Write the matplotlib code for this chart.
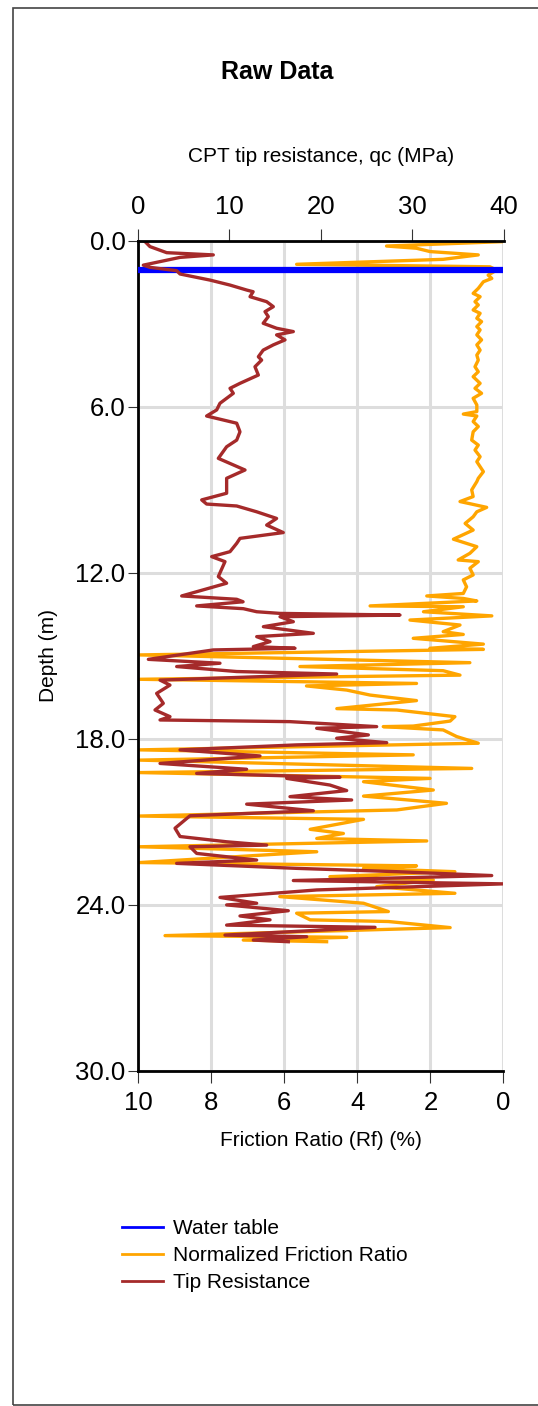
import numpy as np
import matplotlib.pyplot as plt
from matplotlib.lines import Line2D
from matplotlib.patches import Rectangle

plt.rcParams['font.family'] = ['Liberation Sans', 'DejaVu Sans']

# Water table depth (m)
water_table = 1.05

# Tip resistance qc (MPa) against depth (m)
tip_depth = [0.04, 0.22, 0.44, 0.52, 0.61, 0.89, 0.97, 1.09, 1.21, 1.43, 1.61, 1.79, 1.85,
             2.03, 2.21, 2.39, 2.57, 2.75, 2.99, 3.17, 3.29, 3.41, 3.59, 3.77, 3.96, 4.20,
             4.32, 4.56, 4.86, 5.16, 5.34, 5.52, 5.88, 6.12, 6.34, 6.60, 6.91, 7.21, 7.45,
             7.87, 8.29, 8.59, 9.13, 9.37, 9.52, 9.59, 9.80, 10.04, 10.28, 10.55, 10.76,
             10.94, 11.24, 11.42, 11.60, 12.14, 12.38, 12.84, 12.96, 13.05, 13.20, 13.30,
             13.41, 13.47, 13.53, 13.59, 13.77, 13.95, 14.19, 14.31, 14.49, 14.67, 14.73,
             14.79, 15.13, 15.27, 15.39, 15.57, 15.66, 15.88, 16.06, 16.36, 16.72, 16.96,
             17.20, 17.32, 17.38, 17.56, 17.62, 17.86, 17.98, 18.14, 18.22, 18.40, 18.62,
             18.89, 19.10, 19.25, 19.39, 19.43, 19.67, 19.87, 20.09, 20.21, 20.36, 20.60,
             20.78, 21.23, 21.53, 21.72, 21.84, 21.90, 22.14, 22.38, 22.50, 22.68, 22.80,
             22.94, 23.12, 23.24, 23.46, 23.73, 23.94, 24.00, 24.21, 24.40, 24.54, 24.73,
             24.81, 25.09, 25.15, 25.27, 25.33]
tip_qc = [0.77, 1.31, 3.14, 8.24, 4.6, 0.58, 1.31, 4.23, 4.6, 7.88, 10.07, 11.9, 12.6,
          12.26, 14.08, 14.81, 13.9, 14.26, 13.7, 15.17, 17.0, 15.17, 16.09, 14.81, 13.7, 13.17,
          13.53, 12.8, 13.17, 11.16, 10.07, 10.43, 8.97, 8.61, 7.51, 10.8, 11.16, 10.8, 9.7,
          8.79, 11.71, 9.7, 9.7, 6.97, 7.51, 10.8, 12.99, 15.17, 14.08, 15.9, 11.16,
          10.8, 10.07, 8.06, 9.52, 8.79, 9.7, 4.78, 10.8, 11.5, 6.42, 11.53,
          12.99, 15.54, 28.67, 15.54, 17.0, 13.72, 19.19, 12.99, 14.45, 12.62, 17.18,
          8.24, 1.13, 8.97, 4.23, 10.8, 21.74, 2.41, 3.5, 2.04, 2.77, 1.86,
          3.5, 2.41, 16.63, 26.12, 19.55, 25.21, 21.74, 27.22, 17.36, 4.6, 13.35,
          2.41, 11.89, 6.42, 22.1, 16.27, 21.0, 22.84, 16.63, 23.38, 11.89, 19.19,
          5.69, 4.05, 4.6, 9.7, 14.08, 5.69, 6.42, 12.99, 4.23, 17.36, 28.31,
          38.71, 17.0, 39.98, 19.55, 8.97, 12.99, 9.7, 16.45, 11.16, 14.45, 9.7,
          25.94, 9.52, 18.46, 12.62, 16.45]

# Normalized friction ratio Rf (%) against depth (m)
fr_depth = [0.04, 0.20, 0.28, 0.40, 0.52, 0.68, 0.86, 0.95, 1.07, 1.25, 1.37, 1.49, 1.73,
            1.91, 2.03, 2.21, 2.33, 2.51, 2.63, 2.81, 2.93, 3.11, 3.23, 3.41, 3.59, 3.77,
            3.96, 4.14, 4.32, 4.56, 4.74, 4.92, 5.16, 5.34, 5.52, 5.70, 5.94, 6.18, 6.27,
            6.34, 6.54, 6.72, 6.91, 7.21, 7.39, 7.57, 7.81, 7.99, 8.35, 8.59, 8.71, 9.01,
            9.25, 9.43, 9.64, 9.80, 9.98, 10.22, 10.46, 10.79, 11.06, 11.30, 11.54, 11.60,
            11.84, 12.08, 12.26, 12.51, 12.75, 12.84, 12.93, 13.02,
            13.20, 13.23, 13.41, 13.56, 13.71, 13.89, 14.13, 14.23, 14.37, 14.58, 14.73,
            14.77, 14.97, 15.25, 15.39, 15.54, 15.70, 15.85, 16.00, 16.09, 16.24, 16.42,
            16.62, 16.91, 16.96, 17.20, 17.36, 17.54, 17.56, 17.68, 17.92, 18.16, 18.40,
            18.58, 18.77, 19.07, 19.22, 19.43, 19.55, 19.85, 20.07, 20.33, 20.57, 20.79,
            20.91, 21.27, 21.42, 21.60, 21.69, 21.90, 22.08, 22.47, 22.59, 22.68, 22.80,
            22.98, 23.10, 23.34, 23.58, 23.70, 23.94, 24.24, 24.30, 24.54, 24.60, 24.82,
            25.11, 25.17, 25.27, 25.33]
fr_rf = [0.0, 3.2, 2.38, 2.01, 0.69, 1.65, 5.66, 0.37, 0.19, 0.42, 0.32, 0.55, 0.69,
         0.83, 0.64, 0.78, 0.69, 0.83, 0.64, 0.73, 0.6, 0.73, 0.64, 0.73, 0.6, 0.73,
         0.64, 0.73, 0.69, 0.78, 0.69, 0.83, 0.64, 0.78, 0.6, 0.83, 0.73, 0.73, 1.1,
         0.73, 0.83, 0.69, 0.83, 0.87, 0.69, 0.78, 0.64, 0.73, 0.55, 0.69, 0.73, 0.87,
         0.83, 1.19, 0.46, 0.73, 0.83, 1.05, 0.83, 1.37, 0.73, 0.92, 1.24, 0.69,
         0.92, 0.83, 1.1, 1.01, 1.1, 2.1, 1.1, 0.73,
         3.65, 1.1, 2.19, 0.32, 2.56, 1.19, 1.65, 1.1, 2.47, 0.55, 2.01,
         0.55, 9.95, 0.92, 5.57, 1.65, 1.19, 9.95, 2.38, 5.39, 4.29, 3.65,
         2.38, 4.56, 2.92, 1.33, 1.46, 2.47, 3.29, 1.65, 1.28, 0.69, 9.95,
         2.47, 9.95, 0.87, 9.95, 2.01, 3.83, 1.92, 3.83, 1.56, 2.92, 9.95,
         3.83, 5.29, 4.38, 5.11, 2.1, 9.95, 5.11, 9.95, 2.38, 3.83, 1.33,
         4.75, 1.92, 3.47, 1.33, 6.12, 3.83, 3.15, 5.66, 5.29, 3.15, 1.46,
         9.26, 4.29, 7.12, 4.84]

depth_ticks = [0, 6, 12, 18, 24, 30]
qc_ticks = [0, 10, 20, 30, 40]
rf_ticks = [10, 8, 6, 4, 2, 0]

W, H = 538, 1406
fig = plt.figure(figsize=(W / 100, H / 100), dpi=100)

# frame around the whole figure
fig.patches.append(Rectangle((13 / W, 1 / H), 1.2, 1 - 9 / H, transform=fig.transFigure,
                             fill=False, edgecolor='#444444', linewidth=1.2))

ax = fig.add_axes([138 / W, 1 - 1071 / H, 365.5 / W, 830.5 / H])
ax.set_xlim(10, 0)
ax.set_ylim(30, 0)
ax.set_xticks(rf_ticks)
ax.set_yticks(depth_ticks)
ax.set_yticklabels([f'{d:.1f}' for d in depth_ticks])
ax.grid(True, color='#dddddd', linewidth=2.2)
ax.set_axisbelow(True)
ax.tick_params(axis='x', labelsize=18.5, length=8.5, width=0.8, pad=6, color='#333333')
ax.tick_params(axis='y', labelsize=18.5, length=7.5, width=0.8, pad=1.5, color='#333333')
for s in ['left', 'bottom']:
    ax.spines[s].set_linewidth(2)
ax.spines['right'].set_visible(False)
ax.spines['top'].set_visible(False)

ax.plot(fr_rf, fr_depth, color='#ffa500', linewidth=2.4)

ax2 = ax.twiny()
ax2.set_xlim(0, 40)
ax2.set_xticks(qc_ticks)
ax2.tick_params(axis='x', labelsize=18.5, length=8.5, width=0.8, pad=7, color='#333333')
ax2.spines['top'].set_linewidth(2)
for s in ['left', 'bottom', 'right']:
    ax2.spines[s].set_visible(False)

ax2.axhline(water_table, color='#0000ff', linewidth=4.5)
ax2.plot(tip_qc, tip_depth, color='#a52a2a', linewidth=2.4)

fig.text(277 / W, 1 - 72 / H, 'Raw Data', fontsize=18, fontweight='bold', ha='center', va='center')
fig.text(321 / W, 1 - 157 / H, 'CPT tip resistance, qc (MPa)', fontsize=15, ha='center', va='center')
fig.text(321 / W, 1 - 1140 / H, 'Friction Ratio (Rf) (%)', fontsize=15, ha='center', va='center')
fig.text(48 / W, 1 - 655 / H, 'Depth (m)', fontsize=15, rotation=90, ha='center', va='center')

handles = [Line2D([], [], color='#0000ff', linewidth=2),
           Line2D([], [], color='#ffa500', linewidth=2),
           Line2D([], [], color='#a52a2a', linewidth=2)]
labels = ['Water table', 'Normalized Friction Ratio', 'Tip Resistance']
fig.legend(handles, labels, loc='upper left', bbox_to_anchor=(122 / W, 1 - 1219 / H),
           frameon=False, fontsize=15, handlelength=1.95, handletextpad=0.5,
           labelspacing=0.39, borderpad=0, borderaxespad=0)

fig.savefig('out.png', dpi=100)
